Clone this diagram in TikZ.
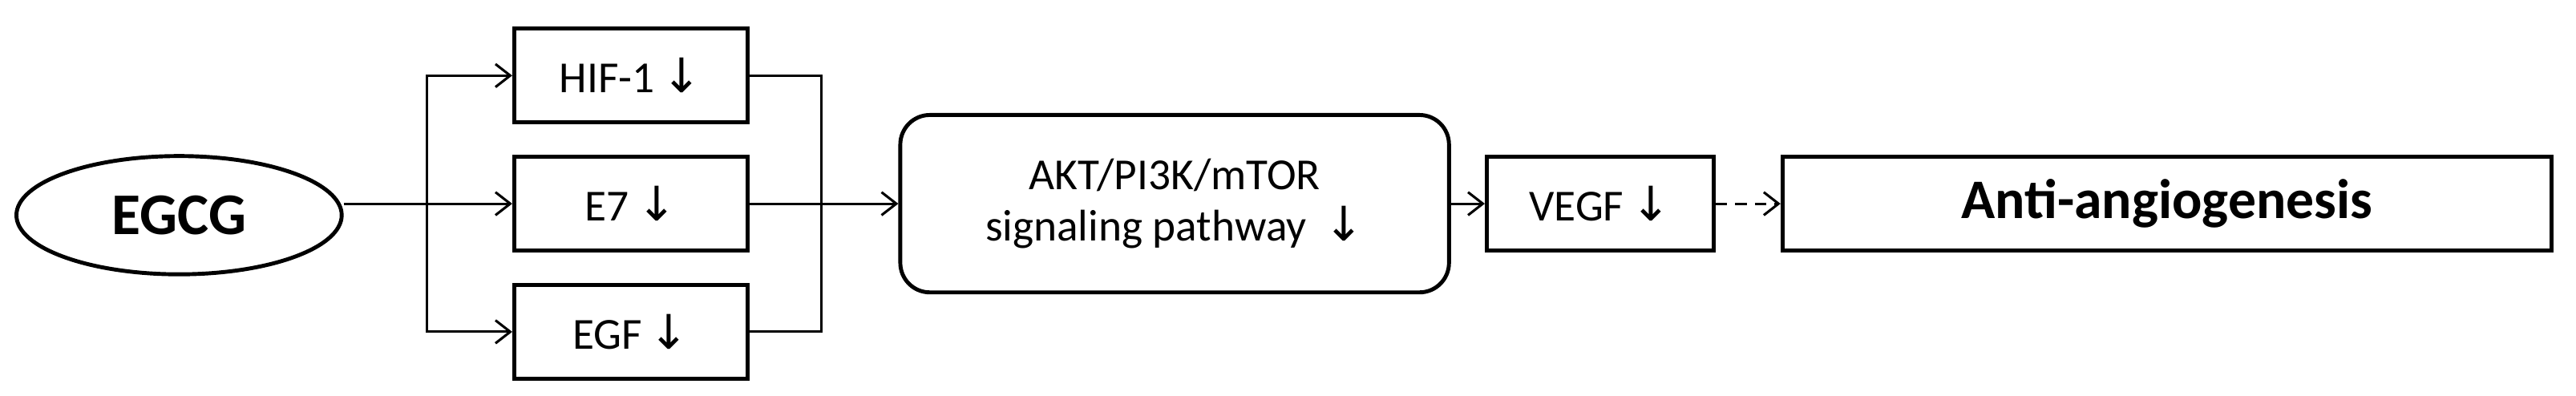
\documentclass[tikz,border=0pt]{standalone}
\usepackage{fontspec}
\setmainfont{Carlito}
\newfontfamily\arr{DejaVu Sans}
\usetikzlibrary{arrows.meta,shapes.geometric}
\begin{document}
\begin{tikzpicture}[x=1pt,y=-1pt,
  box/.style={draw,line width=2.4pt,minimum height=57pt,inner sep=0pt,font=\fontsize{27}{31}\selectfont},
  con/.style={line width=1.5pt,-{Straight Barb[length=9pt,width=14pt,line width=1.5pt]}},
  ln/.style={line width=1.5pt}]
\useasboundingbox (0,0) rectangle (1568,241);
\newcommand\dn{\,{\arr\fontsize{29}{31}\selectfont ↓}}
\node[draw,ellipse,line width=2.4pt,minimum width=198pt,minimum height=72pt,font=\fontsize{36}{40}\selectfont\bfseries] (egcg) at (109,131) {EGCG};
\node[box,minimum width=142pt] (hif) at (384,46) {HIF-1\dn};
\node[box,minimum width=142pt] (e7) at (384,124) {E7\dn};
\node[box,minimum width=142pt] (egf) at (384,202) {EGF\dn};
\node[box,rounded corners=18pt,minimum width=334pt,minimum height=108pt,align=center] (akt) at (715,124) {AKT/PI3K/mTOR\\signaling pathway\ \dn};
\node[box,minimum width=138pt] (vegf) at (974,124) {VEGF\dn};
\node[box,minimum width=468pt,font=\fontsize{34}{38}\selectfont\bfseries] (anti) at (1319,124) {Anti-angiogenesis};
\coordinate (j1) at (260,124);
\coordinate (j2) at (500,124);
\draw[ln] (egcg.east |- j1) -- (j1);
\draw[con] (j1) -- (e7.west);
\draw[con] (j1) |- (hif.west);
\draw[con] (j1) |- (egf.west);
\draw[ln] (hif.east) -| (j2);
\draw[ln] (egf.east) -| (j2);
\draw[con] (e7.east) -- (akt.west);
\draw[con] (akt.east) -- (vegf.west);
\draw[con,dash pattern=on 7pt off 5pt] (vegf.east) -- (anti.west);
\end{tikzpicture}
\end{document}
